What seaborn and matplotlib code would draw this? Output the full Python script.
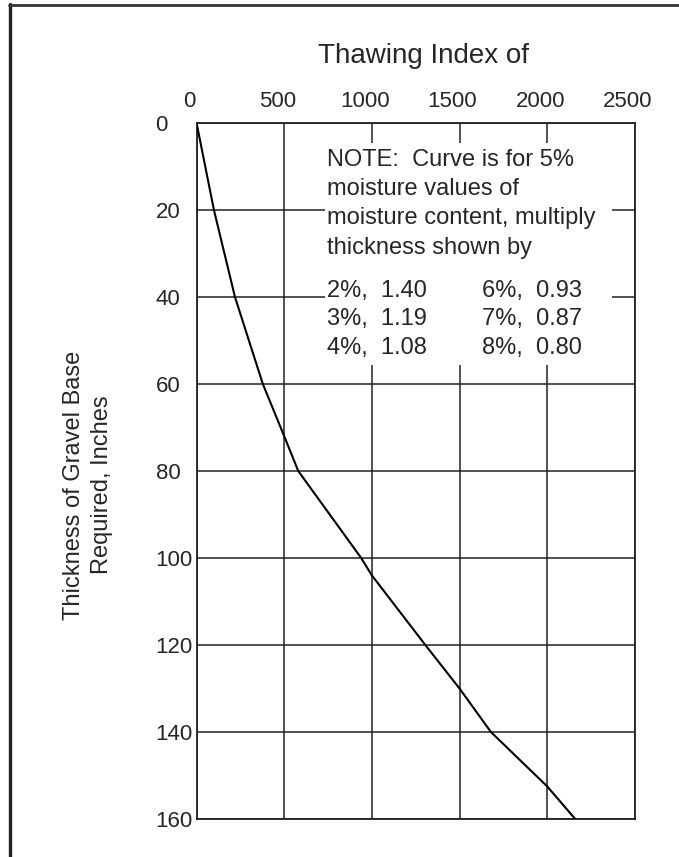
import numpy as np
import pandas as pd
import seaborn as sns
import matplotlib.pyplot as plt
import matplotlib.transforms as mtransforms
from matplotlib.patches import Rectangle
from matplotlib.lines import Line2D

# curve
thaw_index = [0, 99, 219, 378, 500, 580, 939, 1000, 1305, 1500, 1679, 2000, 2160]
thickness = [0, 20, 40, 60, 72, 80, 100, 104, 120, 130, 140, 152.5, 160]

x_ticks = [0, 500, 1000, 1500, 2000, 2500]
y_ticks = [0, 20, 40, 60, 80, 100, 120, 140, 160]

# correction factors for other moisture contents
moisture = [2, 3, 4, 6, 7, 8]
factor = [1.40, 1.19, 1.08, 0.93, 0.87, 0.80]

note_lines = ["NOTE:  Curve is for 5%", "moisture values of",
              "moisture content, multiply", "thickness shown by"]

sns.set_style("white")
plt.rcParams['font.family'] = ['Liberation Sans', 'DejaVu Sans']

df = pd.DataFrame({"index": thaw_index, "thickness": thickness})

fig = plt.figure(figsize=(6.79, 8.57), dpi=100)
ax = fig.add_axes([0.2895, 0.0443, 0.6455, 0.8122])

sns.lineplot(data=df, x="index", y="thickness", sort=False, estimator=None,
             color="black", linewidth=1.5, ax=ax, zorder=4)

ax.set_xlim(0, 2500)
ax.set_ylim(160, 0)
ax.set_xticks(x_ticks)
ax.set_yticks(y_ticks)
ax.xaxis.tick_top()
ax.tick_params(axis='x', length=0, pad=8, labelsize=16)
ax.tick_params(axis='y', length=0, pad=29.5, labelsize=16)
for lab in ax.get_yticklabels():
    lab.set_horizontalalignment('left')
# top labels sit a bit left of the grid lines in the original
shift = mtransforms.ScaledTranslation(-7 / 100, 0, fig.dpi_scale_trans)
for lab in ax.get_xticklabels():
    lab.set_transform(lab.get_transform() + shift)
ax.set_xlabel("")
ax.set_ylabel("")

ax.grid(True, color="#222222", linewidth=1.1)
ax.set_axisbelow(True)
for sp in ax.spines.values():
    sp.set_color("#222222")
    sp.set_linewidth(1.3)

# white area behind the note
ax.add_patch(Rectangle((730, 4.6), 1640, 51, facecolor="white",
                       edgecolor="none", zorder=2))
ax.text(742, 6, "\n".join(note_lines), fontsize=17, va="top", ha="left",
        linespacing=1.42, zorder=5)
left_col = "\n".join(f"{m}%,  {f:.2f}" for m, f in zip(moisture[:3], factor[:3]))
right_col = "\n".join(f"{m}%,  {f:.2f}" for m, f in zip(moisture[3:], factor[3:]))
ax.text(742, 36, left_col, fontsize=17, va="top", ha="left", linespacing=1.38, zorder=5)
ax.text(1627, 36, right_col, fontsize=17, va="top", ha="left", linespacing=1.38, zorder=5)

fig.text(424 / 679, 1 - 63 / 857, "Thawing Index of", fontsize=20,
         ha="center", va="baseline")
fig.text(88 / 679, 1 - 485 / 857, "Thickness of Gravel Base\nRequired, Inches",
         fontsize=17, rotation=90, ha="center", va="center",
         multialignment="center", linespacing=1.35)

# page border (left and top only)
fig.add_artist(Line2D([10 / 679, 10 / 679], [0, 1 - 3.5 / 857],
                      transform=fig.transFigure, color="#222222", linewidth=2.4))
fig.add_artist(Line2D([8.5 / 679, 1], [1 - 4.7 / 857, 1 - 4.7 / 857],
                      transform=fig.transFigure, color="#333333", linewidth=2.0))

fig.savefig("out.png", dpi=100, facecolor="white")
